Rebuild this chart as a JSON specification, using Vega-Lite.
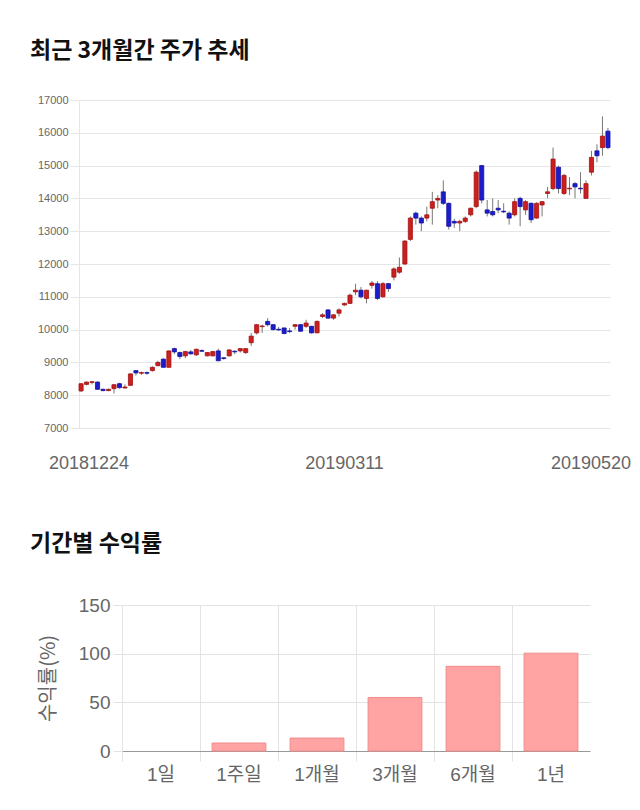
{
  "$schema": "https://vega.github.io/schema/vega-lite/v6.json",
  "background": "white",
  "padding": {"left": 30, "top": 40, "right": 5, "bottom": 5},
  "config": {
    "view": {"stroke": null},
    "font": "Liberation Sans, Noto Sans CJK KR",
    "axisY": {"labelOverlap": false},
    "title": {"font": "Noto Sans CJK KR", "fontWeight": "bold", "fontSize": 23, "color": "#111111", "anchor": "start", "frame": "group"}
  },
  "columns": 1,
  "spacing": 61,
  "concat": [
    {
      "title": {"text": "최근 3개월간 주가 추세", "dx": -49, "offset": 31},
      "width": 531,
      "height": 328,
      "data": {
        "values": [
          {"d": "20181224", "o": 8130, "h": 8370, "l": 8100, "c": 8350},
          {"d": "20181226", "o": 8330, "h": 8420, "l": 8300, "c": 8400},
          {"d": "20181227", "o": 8390, "h": 8430, "l": 8330, "c": 8410},
          {"d": "20181228", "o": 8400, "h": 8420, "l": 8170, "c": 8180},
          {"d": "20190102", "o": 8180, "h": 8200, "l": 8120, "c": 8140},
          {"d": "20190103", "o": 8140, "h": 8200, "l": 8120, "c": 8180},
          {"d": "20190104", "o": 8200, "h": 8340, "l": 8050, "c": 8320},
          {"d": "20190107", "o": 8350, "h": 8380, "l": 8200, "c": 8230},
          {"d": "20190108", "o": 8220, "h": 8330, "l": 8200, "c": 8250},
          {"d": "20190109", "o": 8300, "h": 8660, "l": 8280, "c": 8650},
          {"d": "20190110", "o": 8750, "h": 8760, "l": 8600, "c": 8680},
          {"d": "20190111", "o": 8670, "h": 8720, "l": 8620, "c": 8690},
          {"d": "20190114", "o": 8690, "h": 8720, "l": 8620, "c": 8670},
          {"d": "20190115", "o": 8750, "h": 8880, "l": 8720, "c": 8850},
          {"d": "20190116", "o": 8900, "h": 9050, "l": 8880, "c": 9000},
          {"d": "20190117", "o": 9100, "h": 9120, "l": 8850, "c": 8850},
          {"d": "20190118", "o": 8850, "h": 9360, "l": 8850, "c": 9350},
          {"d": "20190121", "o": 9420, "h": 9450, "l": 9250, "c": 9320},
          {"d": "20190122", "o": 9300, "h": 9330, "l": 9100, "c": 9180},
          {"d": "20190123", "o": 9200, "h": 9350, "l": 9130, "c": 9330},
          {"d": "20190124", "o": 9320, "h": 9380, "l": 9240, "c": 9260},
          {"d": "20190125", "o": 9230, "h": 9420, "l": 9200, "c": 9400},
          {"d": "20190128", "o": 9360, "h": 9400, "l": 9320, "c": 9340},
          {"d": "20190129", "o": 9200, "h": 9310, "l": 9180, "c": 9300},
          {"d": "20190130", "o": 9200, "h": 9340, "l": 9180, "c": 9330},
          {"d": "20190131", "o": 9350, "h": 9420, "l": 9040, "c": 9050},
          {"d": "20190201", "o": 9140, "h": 9150, "l": 9080, "c": 9120},
          {"d": "20190207", "o": 9200, "h": 9400, "l": 9180, "c": 9380},
          {"d": "20190208", "o": 9340, "h": 9370, "l": 9250, "c": 9320},
          {"d": "20190211", "o": 9350, "h": 9440, "l": 9300, "c": 9420},
          {"d": "20190212", "o": 9300, "h": 9430, "l": 9260, "c": 9420},
          {"d": "20190213", "o": 9600, "h": 9900, "l": 9500, "c": 9800},
          {"d": "20190214", "o": 9900, "h": 10170, "l": 9850, "c": 10150},
          {"d": "20190215", "o": 10090, "h": 10150, "l": 9900, "c": 10110},
          {"d": "20190218", "o": 10250, "h": 10350, "l": 10100, "c": 10150},
          {"d": "20190219", "o": 10150, "h": 10170, "l": 9970, "c": 10000},
          {"d": "20190220", "o": 10010, "h": 10080, "l": 9960, "c": 9990},
          {"d": "20190221", "o": 10050, "h": 10060, "l": 9860, "c": 9880},
          {"d": "20190222", "o": 9960, "h": 10050, "l": 9900, "c": 9940},
          {"d": "20190225", "o": 10100, "h": 10170, "l": 10000, "c": 10150},
          {"d": "20190226", "o": 10150, "h": 10170, "l": 9940, "c": 9950},
          {"d": "20190227", "o": 10100, "h": 10300, "l": 10050, "c": 10200},
          {"d": "20190228", "o": 10100, "h": 10110, "l": 9880, "c": 9900},
          {"d": "20190304", "o": 9900, "h": 10280, "l": 9900, "c": 10250},
          {"d": "20190305", "o": 10400, "h": 10500, "l": 10350, "c": 10450},
          {"d": "20190306", "o": 10600, "h": 10620, "l": 10330, "c": 10350},
          {"d": "20190307", "o": 10350, "h": 10470, "l": 10300, "c": 10450},
          {"d": "20190308", "o": 10500, "h": 10650, "l": 10400, "c": 10600},
          {"d": "20190311", "o": 10750, "h": 10820, "l": 10730, "c": 10800},
          {"d": "20190312", "o": 10800, "h": 11100, "l": 10780, "c": 11050},
          {"d": "20190313", "o": 11150, "h": 11400, "l": 11050, "c": 11200},
          {"d": "20190314", "o": 11200, "h": 11300, "l": 10950, "c": 11000},
          {"d": "20190315", "o": 10950, "h": 11220, "l": 10800, "c": 11200},
          {"d": "20190318", "o": 11350, "h": 11480, "l": 11250, "c": 11420},
          {"d": "20190319", "o": 11400, "h": 11480, "l": 10900, "c": 10950},
          {"d": "20190320", "o": 11000, "h": 11450, "l": 10980, "c": 11400},
          {"d": "20190321", "o": 11400, "h": 11420, "l": 11150, "c": 11250},
          {"d": "20190322", "o": 11600, "h": 11900, "l": 11500, "c": 11850},
          {"d": "20190325", "o": 11750, "h": 12200, "l": 11700, "c": 11900},
          {"d": "20190326", "o": 12000, "h": 12720, "l": 11980, "c": 12700},
          {"d": "20190327", "o": 12750, "h": 13450, "l": 12700, "c": 13400},
          {"d": "20190328", "o": 13550, "h": 13600, "l": 13200, "c": 13400},
          {"d": "20190329", "o": 13400, "h": 13450, "l": 13000, "c": 13250},
          {"d": "20190401", "o": 13400, "h": 13750, "l": 13300, "c": 13500},
          {"d": "20190402", "o": 13700, "h": 14200, "l": 13200, "c": 13900},
          {"d": "20190403", "o": 13950, "h": 14100, "l": 13700, "c": 14000},
          {"d": "20190404", "o": 14200, "h": 14550, "l": 13800, "c": 13850},
          {"d": "20190405", "o": 13850, "h": 13870, "l": 13050, "c": 13150},
          {"d": "20190408", "o": 13300, "h": 13380, "l": 13100, "c": 13250},
          {"d": "20190409", "o": 13250, "h": 13350, "l": 13000, "c": 13300},
          {"d": "20190410", "o": 13300, "h": 13450, "l": 13250, "c": 13400},
          {"d": "20190411", "o": 13500, "h": 13720, "l": 13450, "c": 13700},
          {"d": "20190412", "o": 13750, "h": 14850, "l": 13700, "c": 14800},
          {"d": "20190415", "o": 15000, "h": 15020, "l": 13850, "c": 13950},
          {"d": "20190416", "o": 13650, "h": 13950, "l": 13450, "c": 13550},
          {"d": "20190417", "o": 13600, "h": 14000, "l": 13450, "c": 13500},
          {"d": "20190418", "o": 13700, "h": 13950, "l": 13550, "c": 13650},
          {"d": "20190419", "o": 13610, "h": 13850, "l": 13550, "c": 13590},
          {"d": "20190422", "o": 13550, "h": 13600, "l": 13200, "c": 13400},
          {"d": "20190423", "o": 13500, "h": 14000, "l": 13450, "c": 13900},
          {"d": "20190424", "o": 14000, "h": 14050, "l": 13150, "c": 13750},
          {"d": "20190425", "o": 13650, "h": 13950, "l": 13500, "c": 13900},
          {"d": "20190426", "o": 13850, "h": 13880, "l": 13250, "c": 13350},
          {"d": "20190429", "o": 13400, "h": 13880, "l": 13380, "c": 13850},
          {"d": "20190430", "o": 13800, "h": 13920, "l": 13450, "c": 13900},
          {"d": "20190502", "o": 14150, "h": 14350, "l": 14000, "c": 14200},
          {"d": "20190503", "o": 14300, "h": 15550, "l": 14250, "c": 15200},
          {"d": "20190507", "o": 14950, "h": 15000, "l": 14150, "c": 14300},
          {"d": "20190508", "o": 14150, "h": 14750, "l": 14100, "c": 14700},
          {"d": "20190509", "o": 14290, "h": 14650, "l": 14100, "c": 14310},
          {"d": "20190510", "o": 14450, "h": 14500, "l": 14000, "c": 14350},
          {"d": "20190513", "o": 14310, "h": 14800, "l": 14150, "c": 14290},
          {"d": "20190514", "o": 14000, "h": 14550, "l": 14000, "c": 14450},
          {"d": "20190515", "o": 14800, "h": 15450, "l": 14700, "c": 15250},
          {"d": "20190516", "o": 15450, "h": 15650, "l": 15100, "c": 15300},
          {"d": "20190517", "o": 15550, "h": 16500, "l": 15300, "c": 15900},
          {"d": "20190520", "o": 16050, "h": 16150, "l": 15500, "c": 15550}
        ]
      },
      "encoding": {
        "x": {
          "field": "d",
          "type": "ordinal",
          "scale": {"paddingInner": 0.25, "paddingOuter": 0},
          "axis": {
            "title": null,
            "values": ["20181224", "20190311", "20190520"],
            "labelAngle": 0,
            "labelFontSize": 18,
            "labelColor": "#666666",
            "labelPadding": 26,
            "ticks": false,
            "domain": false,
            "grid": false,
            "labelOffset": {"condition": [{"test": "datum.value == '20181224'", "value": 8}, {"test": "datum.value == '20190520'", "value": -17}], "value": 0}
          }
        }
      },
      "layer": [
        {
          "mark": {"type": "rule", "color": "#777777", "strokeWidth": 1},
          "encoding": {
            "y": {
              "field": "l",
              "type": "quantitative",
              "scale": {"domain": [7000, 17000], "nice": false, "zero": false},
              "axis": {
                "title": null,
                "values": [7000, 8000, 9000, 10000, 11000, 12000, 13000, 14000, 15000, 16000, 17000],
                "format": "d",
                "labelOverlap": false,
                "labelFontSize": 11,
                "labelColor": "#666666",
                "labelPadding": 2,
                "tickSize": 9,
                "tickColor": "#e6e6e6",
                "gridColor": "#e6e6e6",
                "domainColor": "#e6e6e6"
              }
            },
            "y2": {"field": "h"}
          }
        },
        {
          "mark": {"type": "bar", "strokeWidth": 0.8},
          "encoding": {
            "y": {
              "field": "o",
              "type": "quantitative",
              "axis": {
                "title": null,
                "values": [7000, 8000, 9000, 10000, 11000, 12000, 13000, 14000, 15000, 16000, 17000],
                "format": "d",
                "labelOverlap": false,
                "labelFontSize": 11,
                "labelColor": "#666666",
                "labelPadding": 2,
                "tickSize": 9,
                "tickColor": "#e6e6e6",
                "gridColor": "#e6e6e6",
                "domainColor": "#e6e6e6"
              }
            },
            "y2": {"field": "c"},
            "color": {"condition": {"test": "datum.c > datum.o", "value": "#cc1f1f"}, "value": "#1c1ccc"},
            "stroke": {"condition": {"test": "datum.c > datum.o", "value": "#a31212"}, "value": "#12129e"}
          }
        }
      ]
    },
    {
      "title": {"text": "기간별 수익률", "dx": -49, "offset": 40},
      "width": 511,
      "height": 146,
      "data": {
        "values": [
          {"p": "1일", "v": 0},
          {"p": "1주일", "v": 8.2},
          {"p": "1개월", "v": 13.3},
          {"p": "3개월", "v": 55},
          {"p": "6개월", "v": 87},
          {"p": "1년", "v": 100.5}
        ]
      },
      "mark": {"type": "bar", "fill": "#ffa3a3", "stroke": "#ef8c8c", "strokeWidth": 1},
      "encoding": {
        "x": {
          "field": "p",
          "type": "nominal",
          "sort": null,
          "scale": {"paddingInner": 0.31, "paddingOuter": 0.155, "range": [43, 511]},
          "axis": {
            "title": null,
            "bandPosition": -0.222,
            "labelOffset": 0,
            "labelAngle": 0,
            "grid": true,
            "gridColor": "#e3e3e3",
            "tickColor": "#e3e3e3",
            "tickSize": 10,
            "domainColor": "#999999",
            "labelFontSize": 19,
            "labelColor": "#666666",
            "labelPadding": 4
          }
        },
        "y": {
          "field": "v",
          "type": "quantitative",
          "scale": {"domain": [0, 150]},
          "axis": {
            "title": "수익률(%)",
            "offset": -43,
            "values": [0, 50, 100, 150],
            "grid": true,
            "gridColor": "#e3e3e3",
            "domainColor": "#e3e3e3",
            "tickColor": "#e3e3e3",
            "tickSize": 9,
            "labelFontSize": 19,
            "labelColor": "#666666",
            "labelPadding": 3,
            "titleFont": "Noto Sans CJK KR",
            "titleFontSize": 20,
            "titleFontWeight": "normal",
            "titleColor": "#666666",
            "titlePadding": 20
          }
        },
        "strokeOpacity": {"condition": {"test": "datum.v == 0", "value": 0}, "value": 1}
      }
    }
  ]
}
